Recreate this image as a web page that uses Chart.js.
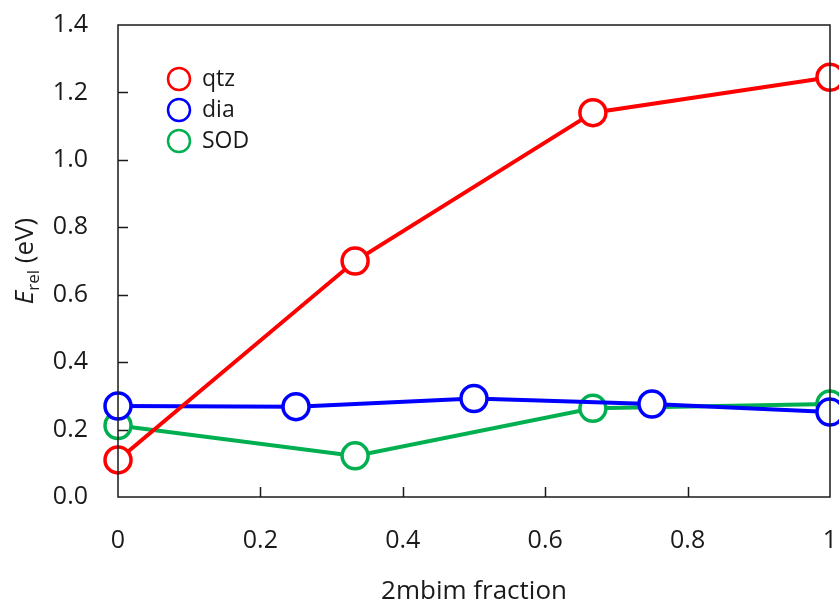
<!DOCTYPE html>
<html>
<head>
<meta charset="utf-8">
<script src="https://cdn.jsdelivr.net/npm/chart.js@4.4.1/dist/chart.umd.min.js"></script>
<style>
  html, body { margin: 0; padding: 0; background: #fff; overflow: hidden; }
  #wrap { width: 839px; height: 601px; position: relative; }
  canvas { display: block; }
</style>
</head>
<body>
<div id="wrap"><canvas id="chart"></canvas></div>
<script>
// ─── DATA ────────────────────────────────────────────────────────────────────
const qtzX = [0, 0.333, 0.667, 1];
const qtzY = [0.11, 0.70, 1.14, 1.245];
const diaX = [0, 0.25, 0.5, 0.75, 1];
const diaY = [0.27, 0.268, 0.292, 0.276, 0.252];
const sodX = [0, 0.333, 0.667, 1];
const sodY = [0.212, 0.122, 0.263, 0.276];
const seriesNames = ['qtz', 'dia', 'SOD'];
const xTicks = [0, 0.2, 0.4, 0.6, 0.8, 1];
const yTicks = [0, 0.2, 0.4, 0.6, 0.8, 1.0, 1.2, 1.4];

// ─── STYLE ───────────────────────────────────────────────────────────────────
const FONT = "'Open Sans', sans-serif";
const INK = '#1a1a1a';
const colors = ['#ff0000', '#0000ff', '#00b050'];
const $ = id => document.getElementById(id);
const pts = (xs, ys) => xs.map((x, i) => ({ x, y: ys[i] }));

function series(i, data) {
  return {
    label: seriesNames[i], data,
    borderColor: colors[i], backgroundColor: '#fff',
    borderWidth: 4, pointRadius: 13, pointBorderWidth: 3.5,
    pointBackgroundColor: '#fff', pointBorderColor: colors[i],
    tension: 0, clip: false,
  };
}

// no extra room for overhanging tick labels: plot box is fixed
function noPad(s) {
  s.paddingLeft = s.paddingRight = s.paddingTop = s.paddingBottom = 0;
}

// frame, inward ticks, legend and axis titles
const decor = {
  id: 'decor',
  afterDatasetsDraw(chart) {
    const { ctx, chartArea: a, scales: { x, y } } = chart;
    ctx.save();
    ctx.strokeStyle = INK;
    ctx.lineWidth = 1.5;
    ctx.strokeRect(a.left, a.top, a.right - a.left, a.bottom - a.top);
    ctx.beginPath();
    yTicks.slice(1, -1).forEach(v => {
      const py = Math.round(y.getPixelForValue(v)) + 0.5;
      ctx.moveTo(a.left, py); ctx.lineTo(a.left + 10, py);
    });
    xTicks.slice(1, -1).forEach(v => {
      const px = Math.round(x.getPixelForValue(v)) + 0.5;
      ctx.moveTo(px, a.bottom); ctx.lineTo(px, a.bottom - 10);
    });
    ctx.stroke();

    // legend
    ctx.font = `23px ${FONT}`;
    ctx.textBaseline = 'middle';
    ctx.fillStyle = INK;
    seriesNames.forEach((name, i) => {
      const cy = 79 + i * 31;
      ctx.beginPath();
      ctx.arc(179, cy, 11, 0, Math.PI * 2);
      ctx.strokeStyle = colors[i];
      ctx.lineWidth = 2.5;
      ctx.stroke();
      ctx.fillText(name, 202, cy);
    });

    // x title
    ctx.textAlign = 'center';
    ctx.textBaseline = 'alphabetic';
    ctx.font = `26px ${FONT}`;
    ctx.fillText('2mbim fraction', (a.left + a.right) / 2, 599);

    // y title: E_rel (eV)
    ctx.translate(33, (a.top + a.bottom) / 2);
    ctx.rotate(-Math.PI / 2);
    const fMain = `26px ${FONT}`, fItal = `italic 26px ${FONT}`, fSub = `17px ${FONT}`;
    ctx.font = fItal; const wE = ctx.measureText('E').width;
    ctx.font = fSub; const wS = ctx.measureText('rel').width;
    ctx.font = fMain; const wR = ctx.measureText(' (eV)').width;
    let cx = -(wE + wS + wR) / 2;
    ctx.textAlign = 'left';
    ctx.font = fItal; ctx.fillText('E', cx, 0); cx += wE;
    ctx.font = fSub; ctx.fillText('rel', cx, 6); cx += wS;
    ctx.font = fMain; ctx.fillText(' (eV)', cx, 0);
    ctx.restore();
  }
};

// ─── CHART ───────────────────────────────────────────────────────────────────
new Chart($('chart'), {
  type: 'line',
  data: {
    datasets: [
      series(0, pts(qtzX, qtzY)),
      series(1, pts(diaX, diaY)),
      series(2, pts(sodX, sodY)),
    ]
  },
  options: {
    responsive: true, maintainAspectRatio: false,
    animation: false,
    layout: { autoPadding: false, padding: { top: 25, right: 9, left: 0, bottom: 0 } },
    plugins: { legend: { display: false }, tooltip: { enabled: false } },
    scales: {
      x: {
        type: 'linear', min: 0, max: 1,
        afterBuildTicks: s => { s.ticks = xTicks.map(v => ({ value: v })); },
        afterFit: s => { s.height = 104; noPad(s); },
        grid: { display: false, drawTicks: false },
        border: { display: false },
        ticks: {
          color: INK, padding: 29, maxRotation: 0,
          font: { family: FONT, size: 25 },
          callback: v => (v === 0 ? '0' : v === 1 ? '1' : v.toFixed(1)),
        },
      },
      y: {
        type: 'linear', min: 0, max: 1.4,
        afterBuildTicks: s => { s.ticks = yTicks.map(v => ({ value: v })); },
        afterFit: s => { s.width = 118; noPad(s); },
        grid: { display: false, drawTicks: false },
        border: { display: false },
        ticks: {
          color: INK, padding: 30,
          font: { family: FONT, size: 25 },
          callback: v => v.toFixed(1),
        },
      },
    },
  },
  plugins: [decor],
});
</script>
</body>
</html>
